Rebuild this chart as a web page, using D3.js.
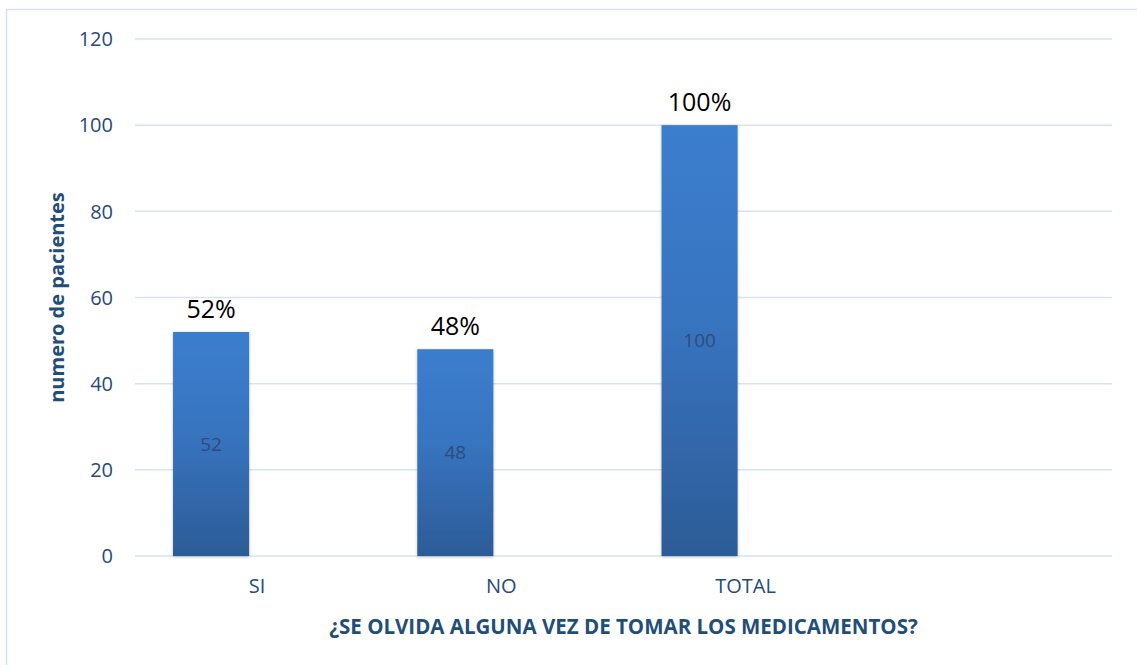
<html>
<head>
<script src="https://d3js.org/d3.v7.min.js"></script>
<style>
body { margin: 0; background: #fff; font-family: 'Open Sans', sans-serif; }
</style>
</head>
<body>
<div id="chart"></div>
<script>
// data
var categories = ["SI", "NO", "TOTAL", ""];
var counts = [52, 48, 100];
var pctLabels = ["52%", "48%", "100%"];
var yTicks = [0, 20, 40, 60, 80, 100, 120];

var W = 1137, H = 665;
var plotLeft = 135, plotRight = 1112, plotTop = 39, plotBottom = 556;

var svg = d3.select("#chart").append("svg")
  .attr("width", W).attr("height", H);

var defs = svg.append("defs");
var grad = defs.append("linearGradient").attr("id", "barGrad")
  .attr("x1", 0).attr("y1", 0).attr("x2", 0).attr("y2", 1);
grad.append("stop").attr("offset", "0%").attr("stop-color", "#3B7ECE");
grad.append("stop").attr("offset", "45%").attr("stop-color", "#3874C0");
grad.append("stop").attr("offset", "100%").attr("stop-color", "#2C5C97");

var shadow = defs.append("filter").attr("id", "shadow")
  .attr("x", "-20%").attr("y", "-5%").attr("width", "140%").attr("height", "110%");
shadow.append("feDropShadow").attr("dx", 0).attr("dy", 1)
  .attr("stdDeviation", 1.5).attr("flood-color", "#000").attr("flood-opacity", 0.25);

// outer frame (runs off right and bottom)
svg.append("rect")
  .attr("x", 6.5).attr("y", 9.5).attr("width", 1200).attr("height", 700)
  .attr("fill", "none").attr("stroke", "#D6E2F3").attr("stroke-width", 1.5);

var x = d3.scaleBand().domain(categories).range([plotLeft, plotRight]).padding(0);
// two slots per category, only the count series is drawn
var x1 = d3.scaleBand().domain(["count", "pct"]).range([0, x.bandwidth()])
  .paddingInner(0.174).paddingOuter(0.413);
var y = d3.scaleLinear().domain([0, 120]).range([plotBottom, plotTop]);

// gridlines
svg.append("g").selectAll("line").data(yTicks).enter().append("line")
  .attr("x1", plotLeft).attr("x2", plotRight)
  .attr("y1", function(d) { return y(d); })
  .attr("y2", function(d) { return y(d); })
  .attr("stroke", "#D6E3F5").attr("stroke-width", 1.5);

// y tick labels
svg.append("g").selectAll("text").data(yTicks).enter().append("text")
  .attr("x", 113)
  .attr("y", function(d) { return y(d); })
  .attr("dy", "0.36em")
  .attr("text-anchor", "end")
  .attr("font-size", 20)
  .attr("fill", "#264A7C")
  .text(function(d) { return d; });

var data = counts.map(function(v, i) {
  return { cat: categories[i], value: v, pct: pctLabels[i] };
});

// bars
svg.append("g").selectAll("rect").data(data).enter().append("rect")
  .attr("x", function(d) { return x(d.cat) + x1("count"); })
  .attr("y", function(d) { return y(d.value); })
  .attr("width", x1.bandwidth())
  .attr("height", function(d) { return y(0) - y(d.value); })
  .attr("fill", "url(#barGrad)")
  .attr("filter", "url(#shadow)");

// values inside bars
svg.append("g").selectAll("text").data(data).enter().append("text")
  .attr("x", function(d) { return x(d.cat) + x1("count") + x1.bandwidth() / 2; })
  .attr("y", function(d) { return (y(d.value) + y(0)) / 2; })
  .attr("dy", "0.36em")
  .attr("text-anchor", "middle")
  .attr("font-size", 19)
  .attr("fill", "#2A4D7E")
  .text(function(d) { return d.value; });

// percent labels on top
svg.append("g").selectAll("text").data(data).enter().append("text")
  .attr("x", function(d) { return x(d.cat) + x1("count") + x1.bandwidth() / 2; })
  .attr("y", function(d) { return y(d.value) - 14; })
  .attr("text-anchor", "middle")
  .attr("font-size", 25)
  .attr("fill", "#000")
  .text(function(d) { return d.pct; });

// category labels
svg.append("g").selectAll("text").data(categories.filter(function(c) { return c; }))
  .enter().append("text")
  .attr("x", function(d) { return x(d) + x.bandwidth() / 2; })
  .attr("y", 593)
  .attr("text-anchor", "middle")
  .attr("font-size", 20)
  .attr("fill", "#264A7C")
  .text(function(d) { return d; });

// axis titles
svg.append("text")
  .attr("x", (plotLeft + plotRight) / 2).attr("y", 634)
  .attr("text-anchor", "middle")
  .attr("font-size", 20.5).attr("font-weight", "bold")
  .attr("fill", "#1F4E79")
  .text("¿SE OLVIDA ALGUNA VEZ DE TOMAR LOS MEDICAMENTOS?");

svg.append("text")
  .attr("transform", "translate(64," + ((plotTop + plotBottom) / 2) + ") rotate(-90)")
  .attr("text-anchor", "middle")
  .attr("font-size", 20).attr("font-weight", "bold")
  .attr("fill", "#1F4E79")
  .text("numero de pacientes");
</script>
</body>
</html>
